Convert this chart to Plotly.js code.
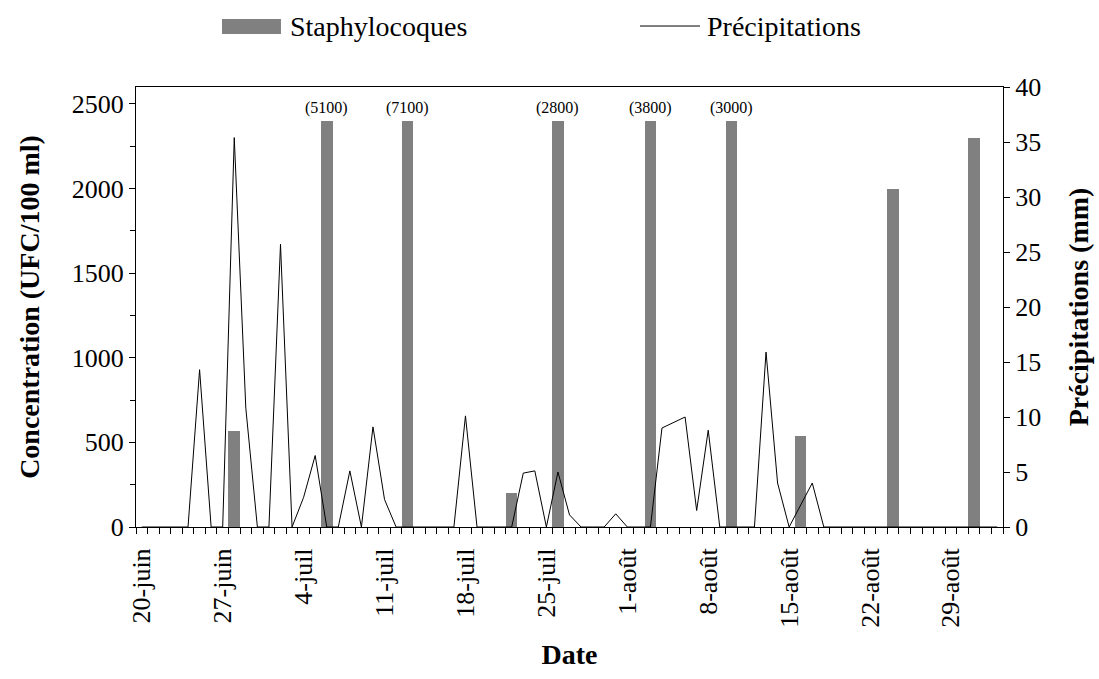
<!DOCTYPE html>
<html>
<head>
<meta charset="utf-8">
<script src="https://cdn.plot.ly/plotly-3.0.1.min.js"></script>
<style>html,body{margin:0;padding:0;background:#fff;}#chart{width:1099px;height:679px;}</style>
</head>
<body>
<div id="chart"></div>
<script>
// Daily categories (20 juin -> 2 sept)
const days = [
  "20-juin","21-juin","22-juin","23-juin","24-juin","25-juin","26-juin","27-juin","28-juin","29-juin","30-juin",
  "1-juil","2-juil","3-juil","4-juil","5-juil","6-juil","7-juil","8-juil","9-juil","10-juil",
  "11-juil","12-juil","13-juil","14-juil","15-juil","16-juil","17-juil","18-juil","19-juil","20-juil",
  "21-juil","22-juil","23-juil","24-juil","25-juil","26-juil","27-juil","28-juil","29-juil","30-juil","31-juil",
  "1-août","2-août","3-août","4-août","5-août","6-août","7-août","8-août","9-août","10-août",
  "11-août","12-août","13-août","14-août","15-août","16-août","17-août","18-août","19-août","20-août",
  "21-août","22-août","23-août","24-août","25-août","26-août","27-août","28-août","29-août","30-août","31-août",
  "1-sept","2-sept"
];

// Tick labels shown on the x axis
const tickLabels = ["20-juin","27-juin","4-juil","11-juil","18-juil","25-juil","1-août","8-août","15-août","22-août","29-août"];

// Staphylocoques (UFC/100 ml)
const staphDays   = ["28-juin","6-juil","13-juil","22-juil","26-juil","3-août","10-août","16-août","24-août","31-août"];
const staphValues = [570, 5100, 7100, 200, 2800, 3800, 3000, 540, 2000, 2300];
const staphCap = 2400; // values above the cap are drawn at the cap with the true value in parentheses

// Précipitations (mm), one per day in `days`
const precipitation = [
  0, 0, 0, 0, 0, 14.3, 0, 0, 35.4, 10.8, 0,
  0, 25.7, 0, 2.7, 6.5, 0, 0, 5.1, 0, 9.1,
  2.5, 0, 0, 0, 0, 0, 0, 10.1, 0, 0,
  0, 0, 4.9, 5.1, 0, 5.0, 1.1, 0, 0, 0, 1.2,
  0, 0, 0, 9.0, 9.5, 10.0, 1.5, 8.8, 0, 0,
  0, 0, 15.9, 4.0, 0, 2.0, 4.0, 0, 0, 0,
  0, 0, 0, 0, 0, 0, 0, 0, 0, 0, 0,
  0, 0
];

const FONT = "Liberation Serif, Times New Roman, serif";
const TICK = 26, TITLE = 28, LEG = 28;
const dayIndex = days.map((d, i) => i);
const staphX = staphDays.map(d => days.indexOf(d));
const staphShown = staphValues.map(v => Math.min(v, staphCap));

const traces = [
  {
    type: "bar", name: "Staphylocoques",
    x: staphX, y: staphShown, width: 1,
    marker: {color: "#808080", line: {width: 0}},
    xaxis: "x", yaxis: "y", showlegend: false, hoverinfo: "skip"
  },
  {
    type: "scatter", mode: "lines", name: "Précipitations",
    x: dayIndex, y: precipitation,
    line: {color: "#000000", width: 1},
    xaxis: "x", yaxis: "y2", showlegend: false, hoverinfo: "skip"
  }
];

const annotations = [];
staphValues.forEach((v, i) => {
  if (v > staphCap) {
    annotations.push({
      x: staphX[i], y: staphCap, xref: "x", yref: "y",
      text: "(" + v + ")", showarrow: false, yanchor: "bottom", yshift: 2,
      font: {family: FONT, size: 16, color: "#000"}
    });
  }
});
// custom legend texts
annotations.push({x: 0.1753, y: 1.1386, xref: "paper", yref: "paper", xanchor: "left", yanchor: "middle",
  text: "Staphylocoques", showarrow: false, font: {family: FONT, size: LEG, color: "#000"}});
annotations.push({x: 0.6563, y: 1.1386, xref: "paper", yref: "paper", xanchor: "left", yanchor: "middle",
  text: "Précipitations", showarrow: false, font: {family: FONT, size: LEG, color: "#000"}});

const shapes = [
  {type: "rect", xref: "paper", yref: "paper", x0: 0.0992, x1: 0.1672, y0: 1.1205, y1: 1.1545,
   fillcolor: "#808080", line: {width: 0}},
  {type: "line", xref: "paper", yref: "paper", x0: 0.5813, x1: 0.6505, y0: 1.1386, y1: 1.1386,
   line: {color: "#000", width: 1}}
];

const layout = {
  width: 1099, height: 679,
  margin: {l: 136, r: 96, t: 87, b: 152},
  paper_bgcolor: "#fff", plot_bgcolor: "#fff",
  font: {family: FONT, size: TICK, color: "#000"},
  showlegend: false,
  bargap: 0,
  xaxis: {
    range: [-0.5, days.length - 0.5],
    tickmode: "array",
    tickvals: tickLabels.map(t => days.indexOf(t)),
    ticktext: tickLabels,
    tickangle: -90,
    ticks: "",
    ticklabelstandoff: 10,
    showline: true, linecolor: "#000", linewidth: 1, mirror: true,
    showgrid: false, zeroline: false,
    minor: {tickmode: "linear", tick0: -0.5, dtick: 1, ticks: "outside", ticklen: 6, tickwidth: 1, tickcolor: "#000", showgrid: false},
    tickfont: {family: FONT, size: TICK, color: "#000"},
    title: {text: "<b>Date</b>", font: {family: FONT, size: TITLE, color: "#000"}, standoff: 17}
  },
  yaxis: {
    range: [0, 2600],
    tickmode: "linear", tick0: 0, dtick: 500,
    ticks: "outside", ticklen: 6, tickcolor: "#000",
    minor: {tickmode: "linear", tick0: 0, dtick: 250, ticks: "outside", ticklen: 5, tickcolor: "#000", showgrid: false},
    showline: true, linecolor: "#000", linewidth: 1,
    showgrid: false, zeroline: false,
    tickfont: {family: FONT, size: TICK, color: "#000"},
    title: {text: "<b>Concentration (UFC/100 ml)</b>", font: {family: FONT, size: TITLE, color: "#000"}, standoff: 23}
  },
  yaxis2: {
    range: [0, 40], overlaying: "y", side: "right",
    tickmode: "linear", tick0: 0, dtick: 5,
    ticks: "outside", ticklen: 6, tickcolor: "#000",
    showline: true, linecolor: "#000", linewidth: 1,
    showgrid: false, zeroline: false,
    tickfont: {family: FONT, size: TICK, color: "#000"},
    title: {text: "<b>Précipitations (mm)</b>", font: {family: FONT, size: TITLE, color: "#000"}, standoff: 28}
  },
  annotations: annotations,
  shapes: shapes
};

Plotly.newPlot("chart", traces, layout, {staticPlot: true, displayModeBar: false});
</script>
</body>
</html>
